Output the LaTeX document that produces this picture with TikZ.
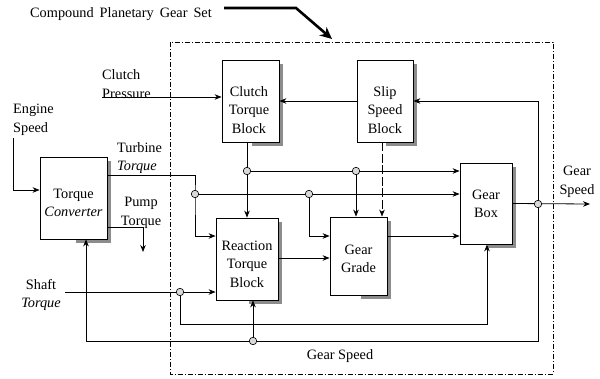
\documentclass[tikz,border=0pt]{standalone}
\usepackage{fontspec}
\setmainfont{Liberation Serif}
\usetikzlibrary{arrows.meta}
\begin{document}
\begin{tikzpicture}[x=1pt,y=-1pt,
  font=\fontsize{14.3}{18.5}\selectfont,
  blk/.style={draw, line width=0.8pt, fill=white, inner sep=0pt},
  shd/.style={fill=black!45},
  txt/.style={align=center, inner sep=0pt},
  con/.style={line width=0.8pt, -{Stealth[length=7pt,width=5.5pt]}},
  junc/.style={circle, draw, line width=0.6pt, fill=gray!30, minimum size=7.5pt, inner sep=0pt}]
\useasboundingbox (0,0) rectangle (600,378);

% dash-dot frame
\draw[line width=0.6pt, dash pattern=on 5pt off 2pt on 1pt off 2pt] (170,42) rectangle (553,374);

% block shadows
\fill[shd] (252,64) rectangle (283,146);
\fill[shd] (386,64) rectangle (417,146);
\fill[shd] (76,161) rectangle (111,243);
\fill[shd] (249,222) rectangle (282,304);
\fill[shd] (361,221) rectangle (391,299);
\fill[shd] (488,167) rectangle (516,248);

% blocks
\node[blk, minimum width=57pt, minimum height=82pt] (CT) at (250.5,101) {};
\node[blk, minimum width=56pt, minimum height=82pt] (SS) at (385,101) {};
\node[blk, minimum width=67pt, minimum height=82pt] (TC) at (73.5,198) {};
\node[blk, minimum width=62pt, minimum height=82pt] (RT) at (247,259) {};
\node[blk, minimum width=57pt, minimum height=78pt] (GG) at (358.5,256) {};
\node[blk, minimum width=52pt, minimum height=81pt] (GB) at (486,203.5) {};

\node[txt] (CTt) at (249,110) {Clutch\\Torque\\Block};
\node[txt] (SSt) at (385,110) {Slip\\Speed\\Block};
\node[txt] (TCt) at (73.5,203) {Torque\\\textit{Converter}};
\node[txt] (RTt) at (247,264) {Reaction\\Torque\\Block};
\node[txt] (GGt) at (358.5,259) {Gear\\Grade};
\node[txt] (GBt) at (486,204) {Gear\\Box};

% labels
\node[txt] (title) at (121,14) {\spaceskip=6pt plus 1pt Compound Planetary Gear Set};
\node[txt, align=left, anchor=west] (lcp) at (102,84) {Clutch\\Pressure};
\node[txt, align=left, anchor=west] (les) at (13,120) {Engine\\Speed};
\node[txt, align=left, anchor=west] (ltt) at (117,158) {Turbine\\\textit{Torque}};
\node[txt] (lpt) at (141,213) {Pump\\Torque};
\node[txt] (lst) at (41,295) {Shaft\\\textit{Torque}};
\node[txt] (lgs) at (577,182) {Gear\\Speed};
\node[txt] (lgb) at (340,356) {Gear Speed};

% title arrow
\coordinate (ta) at (224,8);
\coordinate (tb) at (296,8);
\coordinate (tc) at (332,39);
\draw[line width=2.6pt, line join=miter, -{Stealth[length=12pt,width=11pt]}] (ta) -- (tb) -- (tc);

% coordinates
\coordinate (j1) at (195,194);
\coordinate (j2) at (247,171);
\coordinate (j3) at (356,171);
\coordinate (j4) at (309,194);
\coordinate (j5) at (180,292);
\coordinate (j6) at (253,341);
\coordinate (j7) at (538,204);
\coordinate (cp) at (102,97);
\coordinate (es) at (13,138);
\coordinate (bl) at (86,341);
\coordinate (ptq) at (143,252);
\coordinate (st) at (65,292);
\coordinate (gbl) at (487,324);
\coordinate (gso) at (590,204);
\coordinate (ssb) at ([xshift=-3pt]SS.south);

% connectors
\draw[con] (cp) -- (cp -| CT.west);
\draw[con] (SS.west) -- (CT.east);
\draw[con] (j7) |- (SS.east);
\draw[con] (j7) |- (bl) -- (bl |- TC.south);
\draw[con] (j6) -- (j6 |- RT.south);
\draw[con] (es) |- ([yshift=8pt]TC.west);
\draw[con] ([yshift=23pt]TC.east) -| (j1) |- ([yshift=23pt]RT.west);
\draw[con] (j1) -- (j1 -| GB.west);
\draw[con] (j2 |- CT.south) -- (j2 |- RT.north);
\draw[con] (j2) -- (j2 -| GB.west);
\draw[con] (j3) -- (j3 |- GG.north);
\draw[con, dash pattern=on 9pt off 2.5pt] (ssb) -- (ssb |- GG.north);
\draw[con] (j4) |- ([yshift=20pt]GG.west);
\draw[con] ([yshift=1pt]RT.east) -- ([yshift=1pt]RT.east -| GG.west);
\draw[con] ([yshift=20pt]GG.east) -- ([yshift=20pt]GG.east -| GB.west);
\draw[con] (GB.east) -- (gso);
\draw[con] ([yshift=-29pt]TC.east) -| (ptq);
\draw[con] (st) -- ([yshift=-33pt]RT.west);
\draw[con] (j5) |- (gbl) -- (gbl |- GB.south);

% junction circles
\node[junc] (c1) at (j1) {};
\node[junc] (c2) at (j2) {};
\node[junc] (c3) at (j3) {};
\node[junc] (c4) at (j4) {};
\node[junc] (c5) at (j5) {};
\node[junc] (c6) at (j6) {};
\node[junc] (c7) at (j7) {};
\end{tikzpicture}
\end{document}
